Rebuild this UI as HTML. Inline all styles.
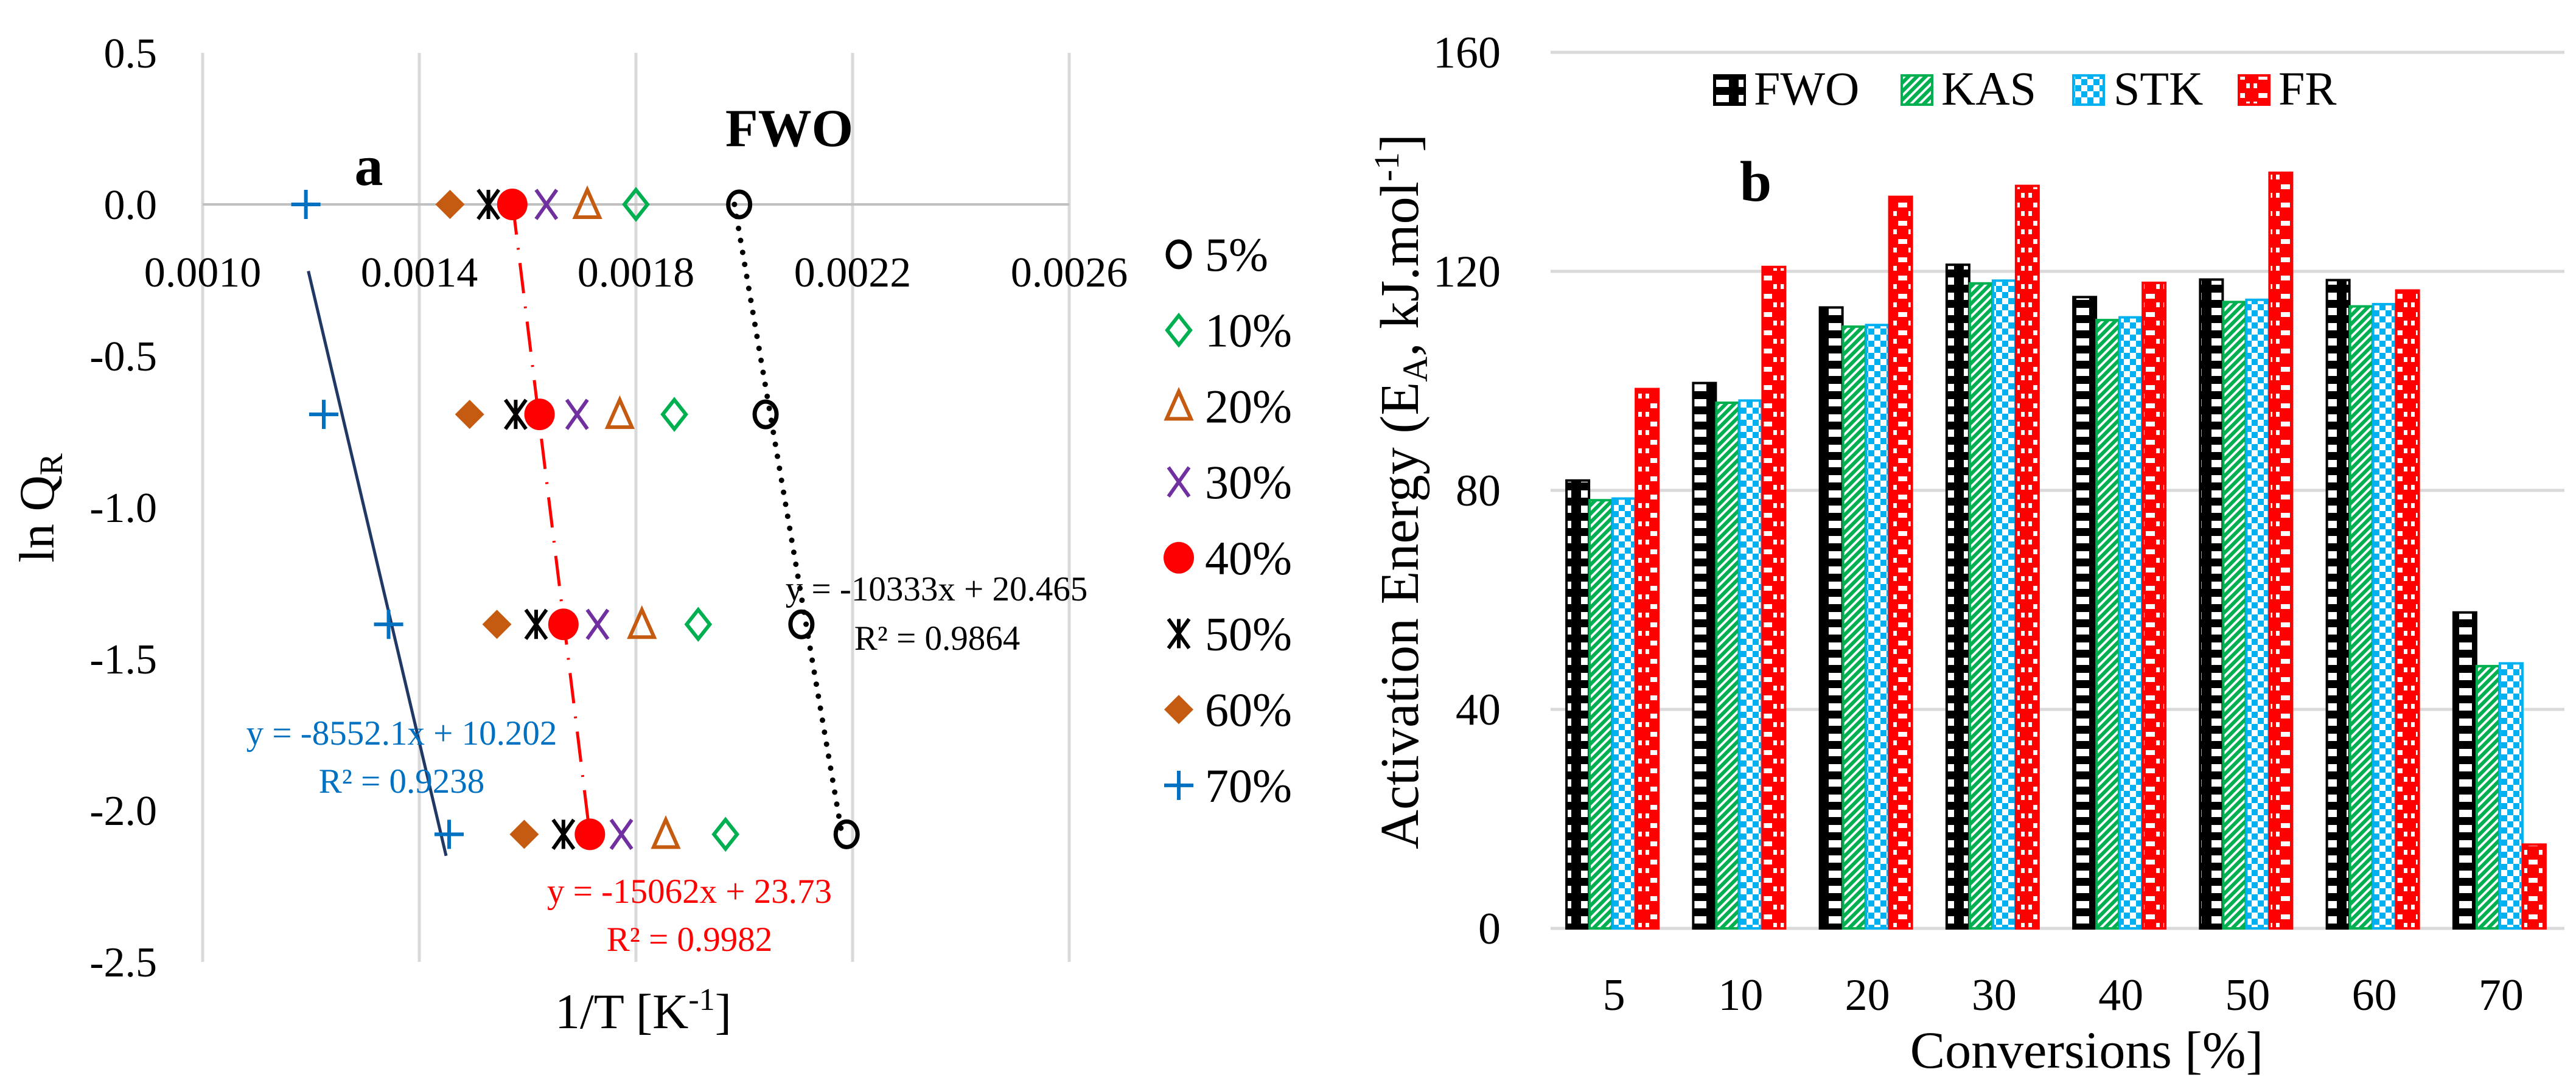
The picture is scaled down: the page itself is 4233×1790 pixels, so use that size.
<!DOCTYPE html>
<html><head><meta charset="utf-8"><style>
html,body{margin:0;padding:0;background:#fff}
svg{display:block;font-family:"Liberation Serif",serif}
</style></head><body>
<svg width="4233" height="1790" viewBox="0 0 4233 1790" xmlns="http://www.w3.org/2000/svg">
<defs>
<pattern id="pFWO" width="37" height="25" patternUnits="userSpaceOnUse"><rect width="37" height="25" fill="#000"/><rect x="8" y="6" width="21" height="12" fill="#fff"/></pattern>
<pattern id="pKAS" width="14" height="14" patternUnits="userSpaceOnUse"><rect width="14" height="14" fill="#fff"/><path d="M-2,16 L16,-2 M-9,9 L9,-9 M5,23 L23,5" stroke="#00b050" stroke-width="6"/></pattern>
<pattern id="pSTK" width="20" height="20" patternUnits="userSpaceOnUse"><rect width="20" height="20" fill="#00b0f0"/><rect width="10" height="10" fill="#fff"/><rect x="10" y="10" width="10" height="10" fill="#fff"/></pattern>
<pattern id="pFR" width="37" height="30" patternUnits="userSpaceOnUse"><rect width="37" height="30" fill="#f00"/><rect x="11" y="3" width="15" height="8" fill="#fff"/><rect x="3" y="17" width="6" height="8" fill="#fff"/><rect x="28" y="17" width="6" height="8" fill="#fff"/></pattern>
</defs>
<g id="left"></g>
<g id="right"></g>
</svg>
<script>
const NS="http://www.w3.org/2000/svg";
// ---- Chart a data ----
const lnQ=[0,-0.693,-1.386,-2.079];
const seriesNames=["5%","10%","20%","30%","40%","50%","60%","70%"];
const x5=[0.0019906,0.0020394,0.0021055,0.0021890];
const x10=[0.0018000,0.0018709,0.0019150,0.0019654];
const x20=[0.0017102,0.0017701,0.0018110,0.0018551];
const x30=[0.0016346,0.0016913,0.0017291,0.0017732];
const x40=[0.0015717,0.0016220,0.0016661,0.0017150];
const x50=[0.0015276,0.0015780,0.0016157,0.0016661];
const x60=[0.0014567,0.0014929,0.0015433,0.0015937];
const x70=[0.0011906,0.0012236,0.0013433,0.0014551];
const xTicks=["0.0010","0.0014","0.0018","0.0022","0.0026"];
const yTicks=["0.5","0.0","-0.5","-1.0","-1.5","-2.0","-2.5"];
// ---- Chart b data ----
const conv=["5","10","20","30","40","50","60","70"];
const eFWO=[81.8,99.6,113.4,121.2,115.3,118.5,118.4,57.7];
const eKAS=[78.2,96.0,109.9,117.8,111.1,114.4,113.6,47.9];
const eSTK=[78.5,96.4,110.2,118.3,111.6,114.8,114.0,48.4];
const eFR=[98.5,120.8,133.6,135.6,117.9,138.0,116.5,15.3];
const eTicks=[0,40,80,120,160];

function el(tag,attrs,parent,txt){const e=document.createElementNS(NS,tag);for(const k in attrs)e.setAttribute(k,attrs[k]);if(txt!==undefined)e.textContent=txt;parent.appendChild(e);return e;}
const L=document.getElementById('left'),R=document.getElementById('right');
const ax=v=>333+(v-0.0010)/0.0004*356;
const ay=v=>336-v/0.5*249;
xTicks.forEach((t,i)=>{const x=ax(+t);
 const g=el('line',{x1:x,x2:x,y1:ay(0.5),y2:ay(-2.5),stroke:'#d9d9d9','stroke-width':5},L);
 
 const tx=el('text',{x:x,y:ay(0)+135,'font-size':70,'text-anchor':'middle'},L,t);
 });
const zl=el('line',{x1:ax(0.001),x2:ax(0.0026),y1:ay(0),y2:ay(0),stroke:'#bfbfbf','stroke-width':4},L);

yTicks.forEach(t=>{const y=ay(+t);const tx=el('text',{x:258,y:y+24,'font-size':70,'text-anchor':'end'},L,t);
 });
function fitLine(xs,y0,y1,attrs,name){const n=xs.length;const my=lnQ.reduce((a,b)=>a+b)/n,mx=xs.reduce((a,b)=>a+b)/n;
 let sxy=0,syy=0;for(let i=0;i<n;i++){sxy+=(lnQ[i]-my)*(xs[i]-mx);syy+=(lnQ[i]-my)**2;}
 const b=sxy/syy,f=y=>mx+b*(y-my);
 const l=el('line',Object.assign({x1:ax(f(y0)),y1:ay(y0),x2:ax(f(y1)),y2:ay(y1)},attrs),L);
 }
fitLine(x5,0,-2.079,{stroke:'#000','stroke-width':9,'stroke-dasharray':'0 20','stroke-linecap':'round'},'trendline-5');
fitLine(x40,0,-2.079,{stroke:'#f00','stroke-width':5,'stroke-dasharray':'50 22 3 22'},'trendline-40');
fitLine(x70,-0.22,-2.15,{stroke:'#203864','stroke-width':5},'trendline-70');
function marker(type,cx,cy,g){const s=24;let m;
 if(type==='circle')m=el('ellipse',{cx,cy,rx:18,ry:21,fill:'none',stroke:'#000','stroke-width':7},g);
 else if(type==='diamond')m=el('path',{d:`M${cx},${cy-s} L${cx+19},${cy} L${cx},${cy+s} L${cx-19},${cy}Z`,fill:'none',stroke:'#00b050','stroke-width':6},g);
 else if(type==='tri')m=el('path',{d:`M${cx},${cy-s} L${cx+20},${cy+s-3} L${cx-20},${cy+s-3}Z`,fill:'none',stroke:'#c55a11','stroke-width':6},g);
 else if(type==='x')m=el('path',{d:`M${cx-17},${cy-s} L${cx+17},${cy+s} M${cx+17},${cy-s} L${cx-17},${cy+s}`,stroke:'#7030a0','stroke-width':6},g);
 else if(type==='dot')m=el('ellipse',{cx,cy,rx:25,ry:26,fill:'#f00'},g);
 else if(type==='star')m=el('path',{d:`M${cx-17},${cy-s} L${cx+17},${cy+s} M${cx+17},${cy-s} L${cx-17},${cy+s} M${cx},${cy-s} L${cx},${cy+s}`,stroke:'#000','stroke-width':6},g);
 else if(type==='fdiamond')m=el('path',{d:`M${cx},${cy-s} L${cx+24},${cy} L${cx},${cy+s} L${cx-24},${cy}Z`,fill:'#c55a11'},g);
 else m=el('path',{d:`M${cx-s},${cy} L${cx+s},${cy} M${cx},${cy-s} L${cx},${cy+s}`,stroke:'#0070c0','stroke-width':6},g);
 return m;}
const types=['circle','diamond','tri','x','dot','star','fdiamond','plus'];
const allX=[x5,x10,x20,x30,x40,x50,x60,x70];
const drawOrder=[7,6,5,3,2,1,0,4];
drawOrder.forEach(si=>{allX[si].forEach((xv,i)=>{const m=marker(types[si],ax(xv),ay(lnQ[i]),L);
 });});
seriesNames.forEach((n,i)=>{const y=418+i*124.7;const m=marker(types[i],1937,y,L);
 
 const t=el('text',{x:1980,y:y+27,'font-size':78},L,n);});
function txt(p,x,y,s,size,attrs,name){const t=el('text',Object.assign({x,y,'font-size':size},attrs||{}),p,s);return t;}
txt(L,1297,240,'FWO',88,{'font-weight':'bold','text-anchor':'middle'},'method-label');
txt(L,606,304,'a',94,{'font-weight':'bold','text-anchor':'middle'},'panel-label-a');
const yt=txt(L,0,0,'ln Q',82,{'text-anchor':'middle',transform:'translate(88,835) rotate(-90)'},'y-axis-title');
el('tspan',{'font-size':54,dy:14},yt,'R');
const xt=txt(L,1057,1690,'1/T [K',82,{'text-anchor':'middle'},'x-axis-title');
el('tspan',{'font-size':52,dy:-30},xt,'-1');el('tspan',{dy:30},xt,']');
txt(L,1539,987,'y = -10333x + 20.465',57,{'text-anchor':'middle'},'equation-5');
txt(L,1540,1068,'R² = 0.9864',57,{'text-anchor':'middle'},'r2-5');
txt(L,660,1224,'y = -8552.1x + 10.202',57,{'text-anchor':'middle',fill:'#0070c0'},'equation-70');
txt(L,660,1303,'R² = 0.9238',57,{'text-anchor':'middle',fill:'#0070c0'},'r2-70');
txt(L,1133,1484,'y = -15062x + 23.73',57,{'text-anchor':'middle',fill:'#f00'},'equation-40');
txt(L,1133,1563,'R² = 0.9982',57,{'text-anchor':'middle',fill:'#f00'},'r2-40');
// ---- Chart b ----
const bx0=2548,bx1=4214,cw=(bx1-bx0)/conv.length,by=v=>1526-v/40*360,bw=37;
eTicks.forEach(t=>{const y=by(t);const g=el('line',{x1:bx0,x2:bx1,y1:y,y2:y,stroke:'#d9d9d9','stroke-width':5},R);
 
 txt(R,2466,y+25,String(t),74,{'text-anchor':'end'},'y-tick-label');});
const sets=[[eFWO,'pFWO','#000','fwo'],[eKAS,'pKAS','#00b050','kas'],[eSTK,'pSTK','#00b0f0','stk'],[eFR,'pFR','#f00','fr']];
conv.forEach((c,ci)=>{const start=bx0+ci*cw+cw/2-2*bw-4;
 sets.forEach((s,si)=>{const v=s[0][ci];const r=el('rect',{x:start+si*(bw+1),y:by(v),width:bw,height:by(0)-by(v),fill:`url(#${s[1]})`,stroke:s[2],'stroke-width':4},R);
  });
 txt(R,bx0+ci*cw+cw/2,1660,c,74,{'text-anchor':'middle'},'x-tick-label');});
[['FWO',2817,2882],['KAS',3125,3190],['STK',3407,3473],['FR',3679,3744]].forEach((l,i)=>{
 const r=el('rect',{x:l[1],y:124,width:50,height:48,fill:`url(#${sets[i][1]})`,stroke:sets[i][2],'stroke-width':4},R);
 
 txt(R,l[2],172,l[0],78,{},'legend-entry');});
txt(R,2885,330,'b',94,{'font-weight':'bold','text-anchor':'middle'},'panel-label-b');
const yb=txt(R,0,0,'Activation Energy (E',90,{'text-anchor':'middle',transform:'translate(2330,808) rotate(-90)'},'y-axis-title');
el('tspan',{'font-size':58,dy:15},yb,'A');el('tspan',{dy:-15},yb,', kJ.mol');el('tspan',{'font-size':58,dy:-32},yb,'-1');el('tspan',{dy:32},yb,']');
txt(R,3429,1755,'Conversions [%]',86,{'text-anchor':'middle'},'x-axis-title');
</script>
</body></html>
